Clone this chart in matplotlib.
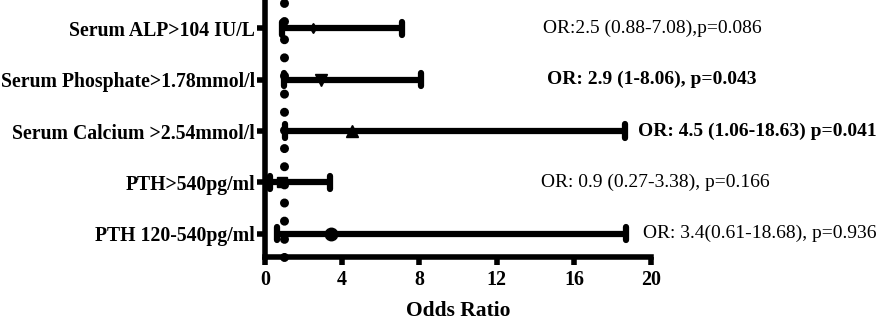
import matplotlib
matplotlib.use("Agg")
import matplotlib.pyplot as plt

# --- data ---
labels = ["Serum ALP>104 IU/L", "Serum Phosphate>1.78mmol/l",
          "Serum Calcium >2.54mmol/l", "PTH>540pg/ml", "PTH 120-540pg/ml"]
odds = [2.5, 2.9, 4.5, 0.9, 3.4]
lower = [0.88, 1.0, 1.06, 0.27, 0.61]
upper = [7.08, 8.06, 18.63, 3.38, 18.68]
notes = ["OR:2.5 (0.88-7.08),p=0.086", "OR: 2.9 (1-8.06), p=0.043",
         "OR: 4.5 (1.06-18.63) p=0.041", "OR: 0.9 (0.27-3.38), p=0.166",
         "OR: 3.4(0.61-18.68), p=0.936"]
bold_note = [False, True, True, False, False]
markers = ["d", "v", "^", "s", "o"]
msizes = [5, 8, 9, 7, 9]
note_x = [14.4, 14.6, 19.3, 14.3, 19.6]

SERIF = ["Liberation Serif", "DejaVu Serif"]
plt.rcParams["font.family"] = SERIF

fig = plt.figure(figsize=(8.86, 3.26), dpi=100)
ax = fig.add_axes([0.299, 0.212, 0.436, 0.788])

ypos = list(range(len(labels), 0, -1))

# reference line at OR = 1
ax.plot([1, 1], [0.55, 5.55], color="black", lw=6.5,
        ls=(0, (0.01, 2.0)), dash_capstyle="round", zorder=1, clip_on=False)

for y, o, lo, hi, m, ms, note, b, nx in zip(ypos, odds, lower, upper, markers,
                                             msizes, notes, bold_note, note_x):
    ax.plot([lo, hi], [y, y], color="black", lw=4.5, solid_capstyle="butt", zorder=2)
    for c in (lo, hi):
        ax.plot([c, c], [y - 0.13, y + 0.13], color="black", lw=4.5,
                solid_capstyle="round", zorder=2)
    ax.plot(o, y, marker=m, color="black", ms=ms, zorder=3)
    ax.text(nx, y, note, ha="left", va="center", fontsize=14,
            fontweight="bold" if b else "normal", clip_on=False)

ax.set_xlim(0, 20)
ax.set_ylim(0.55, 5.55)
ax.set_xticks([0, 4, 8, 12, 16, 20])
ax.set_yticks(ypos)
ax.set_yticklabels(labels, fontsize=14.2)
ax.set_xticklabels([str(v) for v in [0, 4, 8, 12, 16, 20]], fontsize=14.4)
for t in ax.get_xticklabels() + ax.get_yticklabels():
    t.set_fontweight("bold")
ax.set_xlabel("Odds Ratio", fontsize=15.5, fontweight="bold", labelpad=8)
ax.tick_params(axis="both", width=4, length=6, direction="out")
ax.tick_params(axis="y", pad=1)
for s in ("top", "right"):
    ax.spines[s].set_visible(False)
for s in ("left", "bottom"):
    ax.spines[s].set_linewidth(4)

fig.savefig("out.png", dpi=100)
